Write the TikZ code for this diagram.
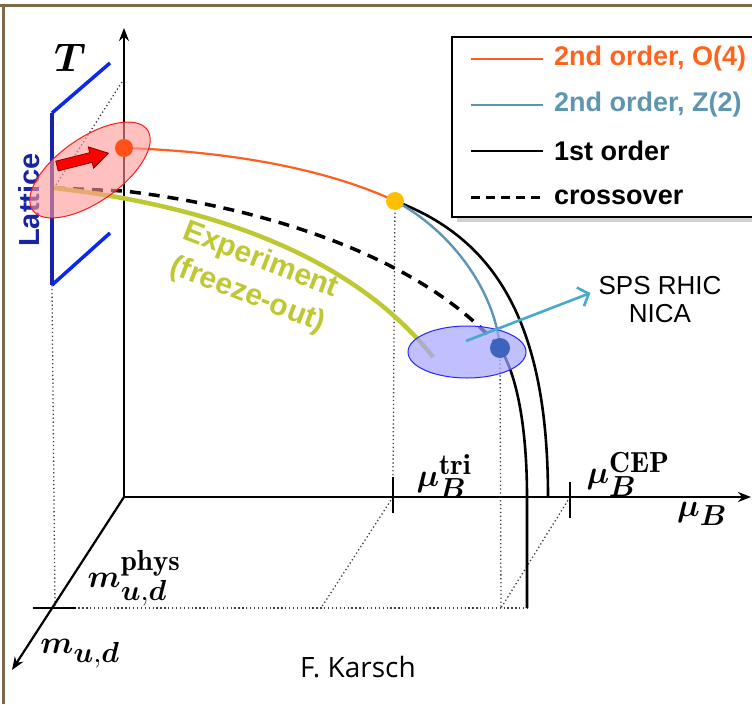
\documentclass[tikz,border=0pt]{standalone}
\usepackage{fix-cm}
\usepackage{amsmath}
\usepackage{bm}
\usepackage{fontspec}
\newfontfamily\legendfont{Liberation Sans}
\newfontfamily\creditfont{Open Sans}
\usetikzlibrary{arrows.meta, calc, positioning}

\DeclareFontShape{OML}{cmm}{m}{it}{<->cmmi10}{}
\DeclareFontShape{OML}{cmm}{b}{it}{<->cmmib10}{}
\DeclareMathSizes{32}{32}{29}{20}

\definecolor{framebrown}{RGB}{128,104,72}
\definecolor{oline}{RGB}{255,95,30}
\definecolor{otext}{RGB}{255,100,30}
\definecolor{zline}{RGB}{90,150,180}
\definecolor{ztext}{RGB}{95,150,175}
\definecolor{expgreen}{RGB}{190,200,50}
\definecolor{latblue}{RGB}{25,35,165}
\definecolor{latbright}{RGB}{10,40,240}
\definecolor{trigold}{RGB}{255,190,0}
\definecolor{cepblue}{RGB}{60,100,190}
\definecolor{ellblue}{RGB}{165,165,255}
\definecolor{ellred}{RGB}{255,150,150}
\definecolor{hiccyan}{RGB}{70,170,200}

\begin{document}
\begin{tikzpicture}[x=1pt,y=-1pt,
	axis/.style={line width=2.2pt},
	guide/.style={line width=1.3pt, dash pattern=on 1.3pt off 2.6pt, black!75},
	tickmark/.style={line width=2.6pt},
	dot/.style={circle, inner sep=0pt, minimum size=#1},
	o4line/.style={oline, line width=2.2pt},
	z2line/.style={zline, line width=2.4pt},
	firstline/.style={black, line width=2.6pt},
	crossline/.style={black, line width=3.5pt, dash pattern=on 11pt off 8pt},
	legdash/.style={black, line width=3pt, dash pattern=on 9pt off 6pt},
	mathlbl/.style={inner sep=0pt, font=\fontsize{32}{36}\selectfont},
	legtext/.style={anchor=west, inner sep=0pt, font=\legendfont\bfseries\fontsize{27}{30}\selectfont}]
	\useasboundingbox (0,0) rectangle (752,704);
	\clip (0,0) rectangle (752,704);
	% 边框
	\draw[framebrown, line width=3pt] (0,5) -- (752,5);
	\draw[framebrown, line width=3pt] (3,5) -- (3,704);
	% 点
	\coordinate (O) at (124,497);
	\coordinate (Ttip) at (124,28);
	\coordinate (Btip) at (751,497);
	\coordinate (Mtip) at (12,670);
	\coordinate (mphys) at (55,608);
	\coordinate (tri) at (393,497);
	\coordinate (cep) at (570,497);
	\coordinate (trifoot) at (321,608);
	\coordinate (cepfoot) at (501,608);
	\coordinate (firstfoot) at (527,608);
	\coordinate (outerfoot) at (548,497);
	\coordinate (pO4) at (124,148);
	\coordinate (pTri) at (395,201);
	\coordinate (pCep) at (500,348);
	\coordinate (Lcross) at (54,188);
	\coordinate (Lup) at (52,113);
	\coordinate (Ldown) at (52,285);
	\coordinate (Lupend) at (110,63);
	\coordinate (Ldownend) at (110,233);
	\coordinate (Tdot) at (122,82);
	\coordinate (expend) at (433,357);
	\coordinate (hic) at (466,341);
	% 辅助虚线
	\draw[guide] (Ldown) -- (mphys);
	\draw[guide] (mphys) -- (firstfoot);
	\draw[guide] (tri) -- (trifoot);
	\draw[guide] (cep) -- (cepfoot);
	\draw[guide] (pTri) -- ([yshift=20pt]tri);
	\draw[guide] (pCep) -- (cepfoot);
	\draw[guide] (Tdot) -- (Lcross);
	% 坐标轴
	\draw[axis, -{Stealth[length=13pt, width=10pt]}] (O) -- (Ttip);
	\draw[axis, -{Stealth[length=13pt, width=10pt]}] (O) -- (Btip);
	\draw[axis, -{Stealth[length=13pt, width=10pt]}] (O) -- (Mtip);
	\draw[tickmark] ([xshift=-22pt]mphys) -- ([xshift=21pt]mphys);
	\draw[tickmark] ([yshift=20pt]tri) -- ([yshift=-16pt]tri);
	\draw[tickmark] ([yshift=15pt]cep) -- ([yshift=-21pt]cep);
	% 相变线
	\draw[firstline] (pTri) .. controls (500,240) and (548,330) .. (outerfoot);
	\draw[firstline] (pCep) .. controls (520,380) and (527,440) .. (527,497) -- (firstfoot);
	\draw[z2line] (pTri) .. controls (450,230) and (495,290) .. (pCep);
	\draw[crossline] (Lcross) -- (124,191) .. controls (260,207) and (420,255) .. (pCep);
	\draw[o4line] (pO4) .. controls (250,152) and (340,175) .. (pTri);
	\draw[expgreen, line width=4.5pt] (Lcross) .. controls (230,208) and (360,265) .. (expend);
	% Lattice
	\draw[latblue, line width=3.5pt] (Lup) -- (Ldown);
	\draw[latbright, line width=3.5pt] (Lup) -- (Lupend);
	\draw[latbright, line width=3.5pt] (Ldown) -- (Ldownend);
	\node[rotate=90, text=latblue, font=\legendfont\bfseries\fontsize{29}{32}\selectfont] (lattext) at (29,200) {Lattice};
	\filldraw[fill=ellred, fill opacity=0.6, draw=red!90, line width=1pt, rotate around={35:(90,170)}] (90,170) ellipse [x radius=70, y radius=32];
	\begin{scope}[shift={(57,166)}, rotate=14]
		\filldraw[fill=red, draw=red!55!black, line width=0.8pt] (0,-5) -- (35,-5) -- (35,-11) -- (53,0) -- (35,11) -- (35,5) -- (0,5) -- cycle;
	\end{scope}
	\node[dot=18pt, fill=oline!85!red] (O4dot) at (pO4) {};
	\node[dot=18pt, fill=trigold] (tridot) at (pTri) {};
	% 实验
	\node[rotate=-21, align=center, text=expgreen, font=\legendfont\bfseries\fontsize{30}{37}\selectfont] (exptext) at (254,278) {Experiment\\(freeze-out)};
	\filldraw[fill=ellblue, fill opacity=0.7, draw=blue!85, line width=1pt] (467,352) ellipse [x radius=59, y radius=26];
	\node[dot=20pt, fill=cepblue] (cepdot) at (pCep) {};
	\node[inner sep=0pt, align=center, font=\legendfont\fontsize{26}{28}\selectfont] (sps) at (660,300) {SPS RHIC\\NICA};
	\draw[hiccyan, line width=2.6pt, -{Straight Barb[length=9pt, width=20pt]}] (hic) -- ([xshift=-8pt, yshift=7pt]sps.west);
	% 标签
	\node[mathlbl, font=\fontsize{40}{46}\selectfont] (Tlbl) at (70,58) {$\bm{T}$};
	\node[mathlbl] (muB) at (702,514) {$\bm{\mu_B}$};
	\node[mathlbl] (mutri) at (444,477) {$\bm{\mu}_{\bm{B}}^{\mathbf{tri}}$};
	\node[mathlbl] (mucep) at (628,474) {$\bm{\mu}_{\bm{B}}^{\mathbf{CEP}}$};
	\node[mathlbl] (mphyslbl) at (134,578) {$\bm{m}_{\bm{u},\bm{d}}^{\mathbf{phys}}$};
	\node[mathlbl] (mlbl) at (80,654) {$\bm{m}_{\bm{u},\bm{d}}$};
	% 图例
	\fill[black!30, opacity=0.6] (457,42) rectangle (775,222);
	\filldraw[fill=white, draw=black, line width=2pt] (452,37) rectangle (770,217);
	\foreach \yy/\sty/\txt/\col [count=\i] in {59/o4line/{2nd order, O(4)}/otext, 105/z2line/{2nd order, Z(2)}/ztext, 151/firstline/{1st order}/black, 197/legdash/{crossover}/black}
	{
		\draw[\sty] (471,\yy) -- (543,\yy);
		\node[legtext, text=\col] (leg\i) at (554,\yy) {\txt};
	}
	\node[inner sep=0pt, font=\creditfont\fontsize{28}{32}\selectfont] (credit) at (358,667) {F. Karsch};
\end{tikzpicture}
\end{document}
